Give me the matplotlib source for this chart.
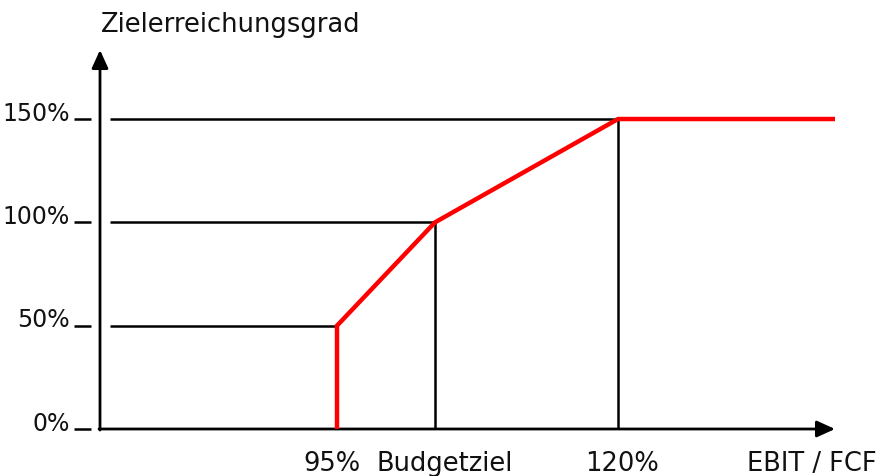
import matplotlib.pyplot as plt

plt.rcParams['font.family'] = ['DejaVu Sans']

# Schematic x positions (axis units) of the EBIT / FCF breakpoints
x_labels = ['95%', 'Budgetziel', '120%']
x_pos = [2.37, 3.35, 5.18]
x_end = 7.33

# Zielerreichungsgrad levels in percent
y_ticks = [0, 50, 100, 150]
y_labels = ['0%', '50%', '100%', '150%']

# Payout curve: jump at 95%, linear up to 100% at budget, 150% cap at 120%
curve_x = [x_pos[0], x_pos[0], x_pos[1], x_pos[2], x_end]
curve_y = [0, 50, 100, 150, 150]

fs = 18.5
fs_y = 17
txt_color = '#111111'
fig = plt.figure(figsize=(8.8, 4.76), dpi=100)
ax = fig.add_axes([100 / 880, 47 / 476, 735 / 880, 379 / 476])
ax.set_xlim(0, 7.35)
ax.set_ylim(0, 183.4)
ax.axis('off')

# axes with arrow heads
arrow = dict(arrowstyle='-|>,head_length=0.55,head_width=0.25', color='black',
             lw=2, shrinkA=0, shrinkB=0, mutation_scale=20)
ax.annotate('', xy=(7.35, 0), xytext=(-0.01, 0), arrowprops=arrow, annotation_clip=False)
ax.annotate('', xy=(0, 183.4), xytext=(0, -0.5), arrowprops=arrow, annotation_clip=False)

# guide lines from y-axis to each breakpoint
start = 0.1
ax.hlines([50, 100, 150], start, x_pos, color='black', lw=1.8)
ax.vlines(x_pos[1:], 0, [100, 150], color='black', lw=1.8)

ax.plot(curve_x, curve_y, color='#ff0000', lw=3.2, solid_joinstyle='miter', zorder=3)

# detached tick dashes and labels on the y-axis
ytr = ax.get_yaxis_transform()
ax.hlines(y_ticks, -26 / 735, -9 / 735, color='black', lw=1.8, transform=ytr, clip_on=False)
for val, lab in zip(y_ticks, y_labels):
    ax.text(-30 / 735, val - 0.8, lab, transform=ytr, ha='right', va='baseline',
            fontsize=fs_y, color=txt_color)

xtr = ax.get_xaxis_transform()
x_offsets = [-0.05, 0.1, 0.035]
for xp, off, lab in zip(x_pos, x_offsets, x_labels):
    ax.text(xp + off, -42 / 379, lab, transform=xtr, ha='center', va='baseline',
            fontsize=fs, color=txt_color)
ax.text(7.77, -42 / 379, 'EBIT / FCF', transform=xtr, ha='right', va='baseline',
        fontsize=fs, color=txt_color)

fig.text(101 / 880, 1 - 32 / 476, 'Zielerreichungsgrad', ha='left', va='baseline',
         fontsize=fs, color=txt_color)

fig.savefig('out.png', dpi=100)
